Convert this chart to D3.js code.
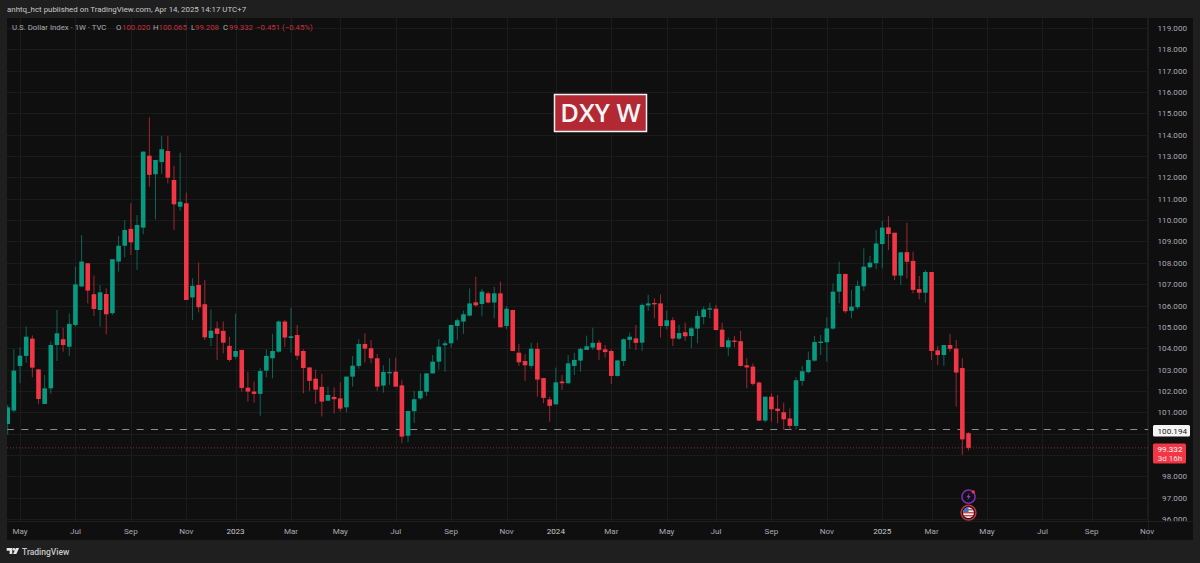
<!DOCTYPE html>
<html><head><meta charset="utf-8">
<script src="https://cdn.jsdelivr.net/npm/d3@7/dist/d3.min.js"></script>
<style>html,body{margin:0;padding:0;background:#1f1f1f;overflow:hidden}svg{display:block}</style>
</head><body><svg id="c" width="1200" height="563"></svg>
<script>
const opens=[100.45,101.08,103.17,103.64,104.45,103.01,101.39,102.12,104.15,104.42,104.07,105.09,106.89,107.98,106.53,105.79,106.54,105.64,108.06,108.80,109.59,108.60,109.65,113.02,112.15,112.72,113.24,111.88,110.63,110.79,106.38,106.96,106.06,104.48,104.93,104.81,104.11,103.60,103.92,102.15,101.97,101.86,102.95,103.53,103.84,105.25,104.48,104.62,103.87,103.10,102.57,102.19,101.54,101.72,101.65,101.23,102.67,103.17,104.20,104.00,103.53,102.25,102.83,102.90,102.26,99.90,101.05,101.65,101.96,102.82,103.37,104.14,104.23,105.04,105.25,105.53,106.15,106.07,106.57,106.14,106.57,105.04,105.79,103.79,103.40,103.17,103.97,102.60,101.60,101.37,102.44,102.36,103.17,103.42,103.92,104.03,104.26,103.95,103.87,102.70,103.40,104.39,104.46,104.26,106.00,106.12,106.10,105.04,105.31,104.45,104.75,104.57,104.92,105.46,105.82,105.85,104.87,104.04,104.36,104.33,103.20,103.14,102.39,100.61,101.73,101.17,101.00,100.71,100.36,102.47,102.88,103.42,104.26,104.28,104.92,106.65,107.48,105.75,105.92,106.90,107.79,107.98,108.88,109.66,109.41,107.40,108.50,108.09,106.77,106.60,107.57,103.90,103.68,104.15,103.98,103.07,100.02];
const highs=[101.34,103.95,104.04,105.01,104.60,103.01,102.75,104.31,105.79,104.96,105.63,107.82,109.30,107.98,107.40,106.96,106.81,108.17,109.26,110.00,110.79,110.24,113.21,114.82,112.82,113.94,113.94,112.55,113.16,111.29,107.27,108.01,107.20,105.82,105.25,105.25,104.54,105.63,103.92,102.90,102.44,103.06,103.95,104.67,105.29,105.32,105.90,105.09,103.95,103.10,103.00,102.80,102.20,102.17,102.40,102.67,103.64,104.42,104.70,104.39,103.73,103.20,103.53,103.56,102.50,101.06,102.00,102.82,102.82,103.68,104.43,104.36,105.09,105.40,105.76,106.80,107.35,106.78,106.65,106.88,107.12,105.98,105.80,104.20,103.73,104.26,104.26,102.60,101.73,103.09,102.75,103.68,103.79,104.04,104.59,104.96,104.39,104.15,103.95,103.44,104.46,104.73,105.09,106.10,106.50,106.34,106.52,105.76,105.45,105.09,105.20,105.00,105.76,105.95,106.13,106.03,105.20,104.50,104.57,104.81,103.53,103.29,102.44,101.73,101.89,101.81,101.45,101.18,102.64,103.17,103.84,104.57,104.62,105.45,107.04,108.06,107.48,106.73,107.17,108.68,108.32,109.54,109.96,110.19,109.41,108.52,109.88,108.52,107.38,107.66,107.57,104.10,104.15,104.67,104.39,103.53,100.065];
const lows=[99.95,101.00,102.36,103.32,102.64,101.39,101.39,101.86,103.40,103.84,103.64,105.01,106.89,106.10,105.51,105.01,104.65,105.56,107.59,108.26,108.37,107.67,109.34,111.57,110.04,112.16,111.72,109.54,110.44,106.26,105.32,105.68,104.39,104.10,103.45,103.76,103.37,103.48,101.97,101.50,101.45,100.83,102.64,102.59,103.79,104.07,103.79,103.45,101.89,102.00,101.39,100.80,101.53,100.95,101.03,101.00,102.20,103.04,103.33,103.30,102.00,101.92,102.28,102.20,99.55,99.59,100.50,101.58,101.76,102.82,103.00,102.90,104.03,104.39,104.67,105.48,105.95,105.50,106.10,105.40,104.98,104.89,103.87,103.17,102.47,103.04,101.73,101.42,100.56,101.37,102.04,102.31,102.75,102.90,103.92,103.92,103.45,103.56,102.33,102.67,103.17,103.98,103.92,103.87,105.75,105.40,104.50,104.89,104.10,104.39,104.34,104.00,104.23,105.12,105.40,104.85,104.06,103.64,104.04,103.14,102.12,102.25,100.60,100.53,100.56,100.48,100.17,100.17,100.20,102.25,102.82,103.37,103.68,103.37,104.88,106.10,105.63,105.40,105.82,106.68,107.74,107.70,107.74,108.60,107.19,106.96,107.27,106.57,106.29,106.13,103.45,103.20,103.18,103.84,101.26,99.00,99.208];
const closes=[101.23,102.95,103.65,104.54,103.09,101.62,102.12,104.15,104.70,104.15,105.14,106.99,108.06,106.70,105.84,106.62,105.59,108.17,108.80,109.54,108.96,109.77,113.21,112.12,112.82,113.32,111.99,110.74,110.86,106.26,106.92,105.92,104.51,104.82,104.67,104.26,103.45,103.87,102.14,101.97,101.86,102.93,103.64,103.87,105.25,104.50,104.56,103.65,103.07,102.47,102.06,101.50,101.81,101.61,101.17,102.67,103.18,104.20,103.98,103.53,102.20,102.89,102.89,102.20,99.86,101.06,101.61,102.00,102.82,103.37,104.07,104.23,105.09,105.31,105.59,106.10,106.01,106.65,106.14,106.57,104.98,105.85,103.87,103.34,103.20,103.98,102.53,101.67,101.30,102.40,102.36,103.29,103.45,103.97,104.09,104.25,103.92,103.82,102.70,103.43,104.42,104.54,104.25,106.03,106.10,106.10,105.04,105.31,104.45,104.71,104.56,104.93,105.51,105.82,105.87,104.85,104.06,104.37,104.30,103.17,103.10,102.33,100.61,101.73,101.14,101.06,100.67,100.36,102.50,102.92,103.45,104.29,104.31,104.93,106.65,107.48,105.73,105.95,106.92,107.82,108.01,108.91,109.65,109.35,107.40,108.49,108.05,106.73,106.60,107.57,103.87,103.68,104.15,103.97,102.86,99.73,99.332];
const priceTicks=d3.range(96,120);
const hiddenPriceLabels=[99,100];
const monthTicks=[["May","2022-05-02"],["Jul","2022-07-04"],["Sep","2022-09-05"],["Nov","2022-11-07"],["2023","2023-01-02"],["Mar","2023-03-06"],["May","2023-05-01"],["Jul","2023-07-03"],["Sep","2023-09-04"],["Nov","2023-11-06"],["2024","2024-01-01"],["Mar","2024-03-04"],["May","2024-05-06"],["Jul","2024-07-01"],["Sep","2024-09-02"],["Nov","2024-11-04"],["2025","2025-01-06"],["Mar","2025-03-03"],["May","2025-05-05"],["Jul","2025-07-07"],["Sep","2025-09-01"],["Nov","2025-11-03"]];
const firstWeek=new Date("2022-04-18T00:00:00Z"), lastWeek=new Date("2025-04-14T00:00:00Z");
const dates=d3.utcMonday.range(firstWeek,d3.utcDay.offset(lastWeek,1));
const prevLine=100.194, lastPrice=99.332;

const svg=d3.select("#c");
const F="Roboto, 'Open Sans', sans-serif";
const UP="#089981",DOWN="#F23645",GRID="#1b1b1b",TXT="#a8abb2",RED="#c5303d";
const L=7,R=1193,T=18,B=540,PR=1148,PB=521;
const x=d3.scaleUtc().domain([firstWeek,lastWeek]).range([7.7,968.5]);
const y=d3.scaleLinear().domain([96,119]).range([519,28]);

svg.append("rect").attr("width",1200).attr("height",563).attr("fill","#1f1f1f");
svg.append("rect").attr("x",L).attr("y",T).attr("width",R-L).attr("height",B-T).attr("fill","#0f0f0f");
const defs=svg.append("defs");
defs.append("clipPath").attr("id","pane").append("rect").attr("x",L).attr("y",T).attr("width",PR-L).attr("height",PB-T);
defs.append("clipPath").attr("id","paxis").append("rect").attr("x",PR).attr("y",T).attr("width",R-PR).attr("height",PB-T);

const pane=svg.append("g").attr("clip-path","url(#pane)");
pane.append("g").selectAll("line").data(priceTicks).join("line")
 .attr("x1",L).attr("x2",PR).attr("y1",d=>Math.round(y(d))+.5).attr("y2",d=>Math.round(y(d))+.5).attr("stroke",GRID);
pane.append("g").selectAll("line").data(monthTicks).join("line")
 .attr("x1",d=>Math.round(x(new Date(d[1])))+.5).attr("x2",d=>Math.round(x(new Date(d[1])))+.5).attr("y1",T).attr("y2",PB).attr("stroke",GRID);

pane.append("line").attr("x1",L).attr("x2",PR).attr("y1",y(lastPrice)).attr("y2",y(lastPrice)).attr("stroke","#8a2a33").attr("stroke-dasharray","1 2");
pane.append("line").attr("x1",L).attr("x2",PR).attr("y1",y(prevLine)).attr("y2",y(prevLine)).attr("stroke","#8e8e8e").attr("stroke-width",1.1).attr("stroke-dasharray","7 7.4");

const candles=pane.append("g").selectAll("g").data(dates).join("g")
 .attr("fill",(d,i)=>closes[i]>=opens[i]?UP:DOWN).attr("stroke",(d,i)=>closes[i]>=opens[i]?UP:DOWN);
candles.append("line").attr("x1",d=>x(d)).attr("x2",d=>x(d)).attr("y1",(d,i)=>y(highs[i])).attr("y2",(d,i)=>y(lows[i])).attr("stroke-width",.9).attr("stroke-opacity",.7);
candles.append("rect").attr("stroke","none").attr("x",d=>x(d)-2.3).attr("width",4.6)
 .attr("y",(d,i)=>y(Math.max(opens[i],closes[i])))
 .attr("height",(d,i)=>Math.max(1.4,Math.abs(y(opens[i])-y(closes[i]))));

svg.append("line").attr("x1",PR+.5).attr("x2",PR+.5).attr("y1",T).attr("y2",B).attr("stroke","#1e1e1e");
svg.append("line").attr("x1",L).attr("x2",R).attr("y1",PB+.5).attr("y2",PB+.5).attr("stroke","#1e1e1e");

svg.append("g").attr("clip-path","url(#paxis)").selectAll("text").data(priceTicks.filter(d=>!hiddenPriceLabels.includes(d))).join("text")
 .attr("x",1187).attr("y",d=>y(d)+3).attr("text-anchor","end").attr("fill",TXT)
 .attr("font-family",F).attr("font-size",8.1).text(d=>d3.format(".3f")(d));

svg.append("g").selectAll("text").data(monthTicks).join("text")
 .attr("x",d=>x(new Date(d[1]))).attr("y",533.5).attr("text-anchor","middle")
 .attr("fill",d=>d[0].length===4?"#c8cad0":TXT).attr("font-family",F).attr("font-size",8.1).text(d=>d[0]);

svg.append("rect").attr("x",1153).attr("y",425).attr("width",37).attr("height",11.5).attr("rx",1.5).attr("fill","#f4f4f4");
svg.append("text").attr("x",1187).attr("y",433.8).attr("text-anchor","end").attr("fill","#1a1a1a").attr("font-family",F).attr("font-size",8.1).text(d3.format(".3f")(prevLine));
svg.append("rect").attr("x",1153).attr("y",443.5).attr("width",33).attr("height",20).attr("rx",1.5).attr("fill",DOWN);
svg.append("text").attr("x",1170).attr("y",452).attr("text-anchor","middle").attr("fill","#fff").attr("font-family",F).attr("font-size",8.1).text(d3.format(".3f")(lastPrice));
svg.append("text").attr("x",1170).attr("y",461).attr("text-anchor","middle").attr("fill","#fde0e3").attr("font-family",F).attr("font-size",8).text("3d 16h");

svg.append("text").attr("x",7).attr("y",12).attr("fill","#c9c9c9").attr("font-family",F).attr("font-size",7.9).text("anhtq_hct published on TradingView.com, Apr 14, 2025 14:17 UTC+7");
const lg2=svg.append("g").attr("font-family",F).attr("font-size",7.8);
const legendParts=[["U.S. Dollar Index · 1W · TVC",12,"#a9acb3"],["O",116,"#a9acb3"],["100.020",122,RED],["H",153,"#a9acb3"],["100.065",158.5,RED],["L",191,"#a9acb3"],["99.208",195,RED],["C",223,"#a9acb3"],["99.332",229,RED],["−0.451",256,RED],["(−0.45%)",282,RED]];
lg2.selectAll("text").data(legendParts).join("text").attr("x",d=>d[1]).attr("y",29.5).attr("fill",d=>d[2]).text(d=>d[0]);

svg.append("rect").attr("x",554.5).attr("y",94.5).attr("width",92).attr("height",37).attr("fill","#b22833").attr("stroke","#f2f2f2").attr("stroke-width",1.5);
svg.append("text").attr("x",600.5).attr("y",122).attr("text-anchor","middle").attr("fill","#f6f6f6").attr("font-family","'Open Sans', sans-serif").attr("font-weight",600).attr("font-size",25.5).text("DXY W");

const ix=x(lastWeek);
const ic1=svg.append("g").attr("transform",`translate(${ix},496.7)`);
ic1.append("circle").attr("r",6.6).attr("fill","#121019").attr("stroke","#7b2fb0").attr("stroke-width",1.5);
ic1.append("path").attr("d","M1,-3.6 L-2,0.6 L-0.2,0.6 L-1,3.6 L2,-0.8 L0.2,-0.8 Z").attr("fill","#8f45c8");
ic1.append("circle").attr("cx",4.8).attr("cy",-4.8).attr("r",1.6).attr("fill",DOWN);
const ic2=svg.append("g").attr("transform",`translate(${ix},512.7)`);
ic2.append("circle").attr("r",7.4).attr("fill","#1a1a1a").attr("stroke","#c0303a").attr("stroke-width",1.5);
ic2.append("clipPath").attr("id","flag").append("circle").attr("r",5.4);
const fl=ic2.append("g").attr("clip-path","url(#flag)");
fl.append("rect").attr("x",-6).attr("y",-6).attr("width",12).attr("height",12).attr("fill","#eeeeee");
[-3,0,3].forEach(o=>fl.append("rect").attr("x",-6).attr("y",o-.7).attr("width",12).attr("height",1.4).attr("fill","#d8404c"));
fl.append("rect").attr("x",-6).attr("y",-6).attr("width",6).attr("height",5.6).attr("fill","#3f6fc0");

const lg=svg.append("g").attr("transform","translate(6.7,548) scale(0.8)").attr("fill","#e4e4e4");
lg.append("path").attr("d","M0,0 H7 V7.5 H3.6 V3.4 H0 Z");
lg.append("circle").attr("cx",9).attr("cy",1.7).attr("r",1.7);
lg.append("path").attr("d","M11.5,0 H15.6 L12,7.5 H8 Z");
svg.append("text").attr("x",22).attr("y",555).attr("fill","#c9c9c9").attr("font-family",F).attr("font-weight",500).attr("font-size",8.5).text("TradingView");
</script></body></html>
